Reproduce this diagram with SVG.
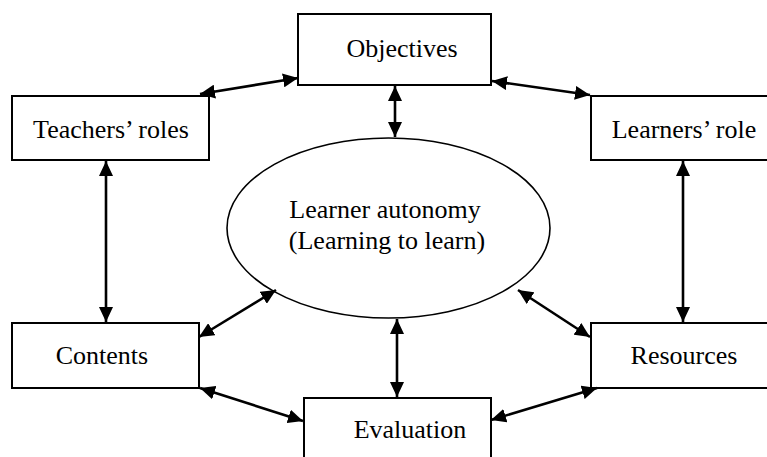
<svg xmlns="http://www.w3.org/2000/svg" width="767" height="457" viewBox="0 0 767 457">
<style>
.box{fill:#fff;stroke:#000;stroke-width:2}
.ell{fill:#fff;stroke:#000;stroke-width:1.6}
text{font-family:'Liberation Serif',serif;font-size:26px;fill:#000;text-anchor:middle}
.con{stroke:#000;stroke-width:2.6;fill:none;marker-start:url(#ah);marker-end:url(#ah)}
</style>
<defs>
<marker id="ah" markerUnits="userSpaceOnUse" markerWidth="16" markerHeight="14" viewBox="0 0 16 14" refX="15" refY="7" orient="auto-start-reverse">
<path d="M0,0 L15,7 L0,14 z" fill="#000"/>
</marker>
</defs>
<rect width="767" height="457" fill="#fff"/>
<g id="objectives"><rect class="box" x="298" y="14" width="193" height="71"/><text x="402" y="57" font-family="Liberation Serif, serif">Objectives</text></g>
<g id="teachers"><rect class="box" x="12" y="96" width="197" height="64"/><text x="111" y="138" font-family="Liberation Serif, serif">Teachers’ roles</text></g>
<g id="learners"><rect class="box" x="591" y="96" width="190" height="64"/><text x="684" y="138" font-family="Liberation Serif, serif">Learners’ role</text></g>
<g id="autonomy"><ellipse class="ell" cx="388.5" cy="228" rx="161.5" ry="90"/><text x="385" y="218" font-family="Liberation Serif, serif">Learner autonomy</text><text x="387" y="249" font-family="Liberation Serif, serif">(Learning to learn)</text></g>
<g id="contents"><rect class="box" x="12" y="323" width="187" height="65"/><text x="102" y="364" font-family="Liberation Serif, serif">Contents</text></g>
<g id="resources"><rect class="box" x="591" y="323" width="190" height="65"/><text x="684" y="364" font-family="Liberation Serif, serif">Resources</text></g>
<g id="evaluation"><rect class="box" x="304" y="398" width="187" height="70"/><text x="410" y="438" font-family="Liberation Serif, serif">Evaluation</text></g>
<g id="connectors">
<line class="con" x1="298" y1="78" x2="200" y2="94"/>
<line class="con" x1="492" y1="81" x2="590" y2="95"/>
<line class="con" x1="395" y1="86" x2="395" y2="137"/>
<line class="con" x1="106" y1="161" x2="106" y2="322"/>
<line class="con" x1="683" y1="161" x2="683" y2="322"/>
<line class="con" x1="199" y1="337" x2="276" y2="290"/>
<line class="con" x1="200" y1="388" x2="303" y2="421"/>
<line class="con" x1="397" y1="319" x2="397" y2="397"/>
<line class="con" x1="518" y1="290" x2="590" y2="337"/>
<line class="con" x1="597" y1="388" x2="491" y2="420"/>
</g>
</svg>
